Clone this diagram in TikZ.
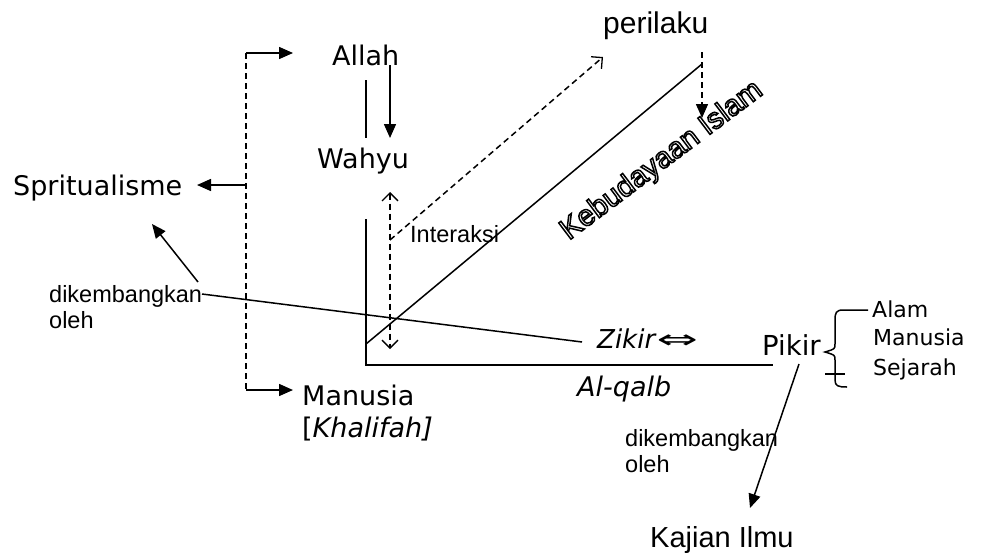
\documentclass[tikz,border=0pt]{standalone}
\usepackage{fontspec}
\setmainfont{DejaVu Sans}
\newfontfamily\arialf{Liberation Sans}
\usetikzlibrary{arrows.meta}
\newcommand\outlinetext[1]{\special{pdf:literal direct 1 Tr 1.5 w}#1\special{pdf:literal direct 0 Tr}}
\begin{document}
\begin{tikzpicture}[x=1pt,y=-1pt,
  big/.style={font=\fontsize{27}{30}\selectfont, anchor=base west, inner sep=0pt},
  mid/.style={font=\fontsize{22}{26}\selectfont, anchor=base west, inner sep=0pt},
  sml/.style={font=\arialf\fontsize{23.5}{26}\selectfont, anchor=base west, inner sep=0pt},
  ln/.style={line width=1.5pt},
  dsh/.style={line width=1.5pt, dash pattern=on 6pt off 4pt},
  fa/.style={-{Triangle[length=14pt,width=12pt]}},
  oa/.style={-{Straight Barb[length=8pt,width=16pt,line width=1.3pt]}},
]
\useasboundingbox (0,0) rectangle (982,552);
% text nodes
\node[big] (allah) at (332,65) {Allah};
\node[big] (wahyu) at (317,168) {Wahyu};
\node[big] (sprit) at (13,195) {Spritualisme};
\node[big] (manusia) at (302,405) {Manusia};
\node[big] (khal) at (302,437) {[\textit{Khalifah]}};
\node[sml,font=\arialf\fontsize{30}{34}\selectfont] (perilaku) at (603,33) {perilaku};
\node[sml] (interaksi) at (410,242) {Interaksi};
\node[sml] (dk1) at (49,302) {dikembangkan};
\node[sml] (ol1) at (49,328) {oleh};
\node[big,font=\fontsize{26}{30}\selectfont] (zikir) at (597,348) {\textit{Zikir}\scalebox{1.9}[1.0]{⇔}};
\node[big] (qalb) at (577,396) {\textit{Al-qalb}};
\node[big,font=\fontsize{27.5}{30}\selectfont] (pikir) at (762,355) {Pikir};
\node[mid] (alam) at (872,317) {Alam};
\node[mid] (man2) at (873,345) {Manusia};
\node[mid] (sej) at (873,375) {Sejarah};
\node[sml] (dk2) at (625,446) {dikembangkan};
\node[sml] (ol2) at (625,472) {oleh};
\node[sml,font=\arialf\fontsize{29}{32}\selectfont] (kajian) at (650,547) {Kajian Ilmu};
% coordinates
\coordinate (dtop) at (246,53);
\coordinate (dmid) at (246,185);
\coordinate (dbot) at (246,390);
\coordinate (allahL) at (293,53);
\coordinate (spritR) at (197,185);
\coordinate (manL) at (293,390);
\coordinate (axTop) at (366,219);
\coordinate (axO) at (366,365);
\coordinate (axR) at (773,365);
\coordinate (diagA) at (366,344);
\coordinate (diagB) at (702,64);
\coordinate (iTop) at (390,192);
\coordinate (iBot) at (390,349);
\coordinate (iMid) at (390,240);
\coordinate (pTip) at (603,57);
\coordinate (kTop) at (702,52);
\coordinate (kTip) at (702,118);
\coordinate (zEnd) at (582,342);
\coordinate (dk1a) at (198,282);
\coordinate (dk1b) at (202,294);
\coordinate (spTip) at (152,224);
\coordinate (pkStart) at (799,364);
\coordinate (kjTip) at (750,508);
% connectors
\draw[dsh] (dtop) -- (dbot);
\draw[ln,fa] (dtop) -- (allahL);
\draw[ln,fa] (dmid) -- (spritR);
\draw[ln,fa] (dbot) -- (manL);
\draw[ln] (366,80) -- (366,138);
\draw[ln,fa] (390,65) -- (390,138);
\draw[ln] (axTop) -- (axO) -- (axR);
\draw[ln] (diagA) -- (diagB);
\draw[dsh,oa] (iMid) -- (pTip);
\draw[dsh,{Straight Barb[length=8pt,width=16pt,line width=1.3pt]}-{Straight Barb[length=8pt,width=16pt,line width=1.3pt]}] (iTop) -- (iBot);
\draw[dsh,fa] (kTop) -- (kTip);
\draw[ln] (dk1b) -- (zEnd);
\draw[ln,fa] (dk1a) -- (spTip);
\draw[ln,fa] (pkStart) -- (kjTip);
% brace
\draw[ln] (868,310) -- (843,310) .. controls (836,310) and (835,313) .. (835,320)
  -- (835,344) .. controls (835,349) .. (825,352) .. controls (835,355) .. (835,360)
  -- (835,380) .. controls (835,386) and (838,387) .. (847,387);
\draw[ln] (825,374) -- (845,374);
% outlined rotated title
\node[font=\arialf\fontsize{29.5}{32}\selectfont, rotate=37, inner sep=0pt] (kebud) at (662,161) {\outlinetext{Kebudayaan Islam}};
\end{tikzpicture}
\end{document}
